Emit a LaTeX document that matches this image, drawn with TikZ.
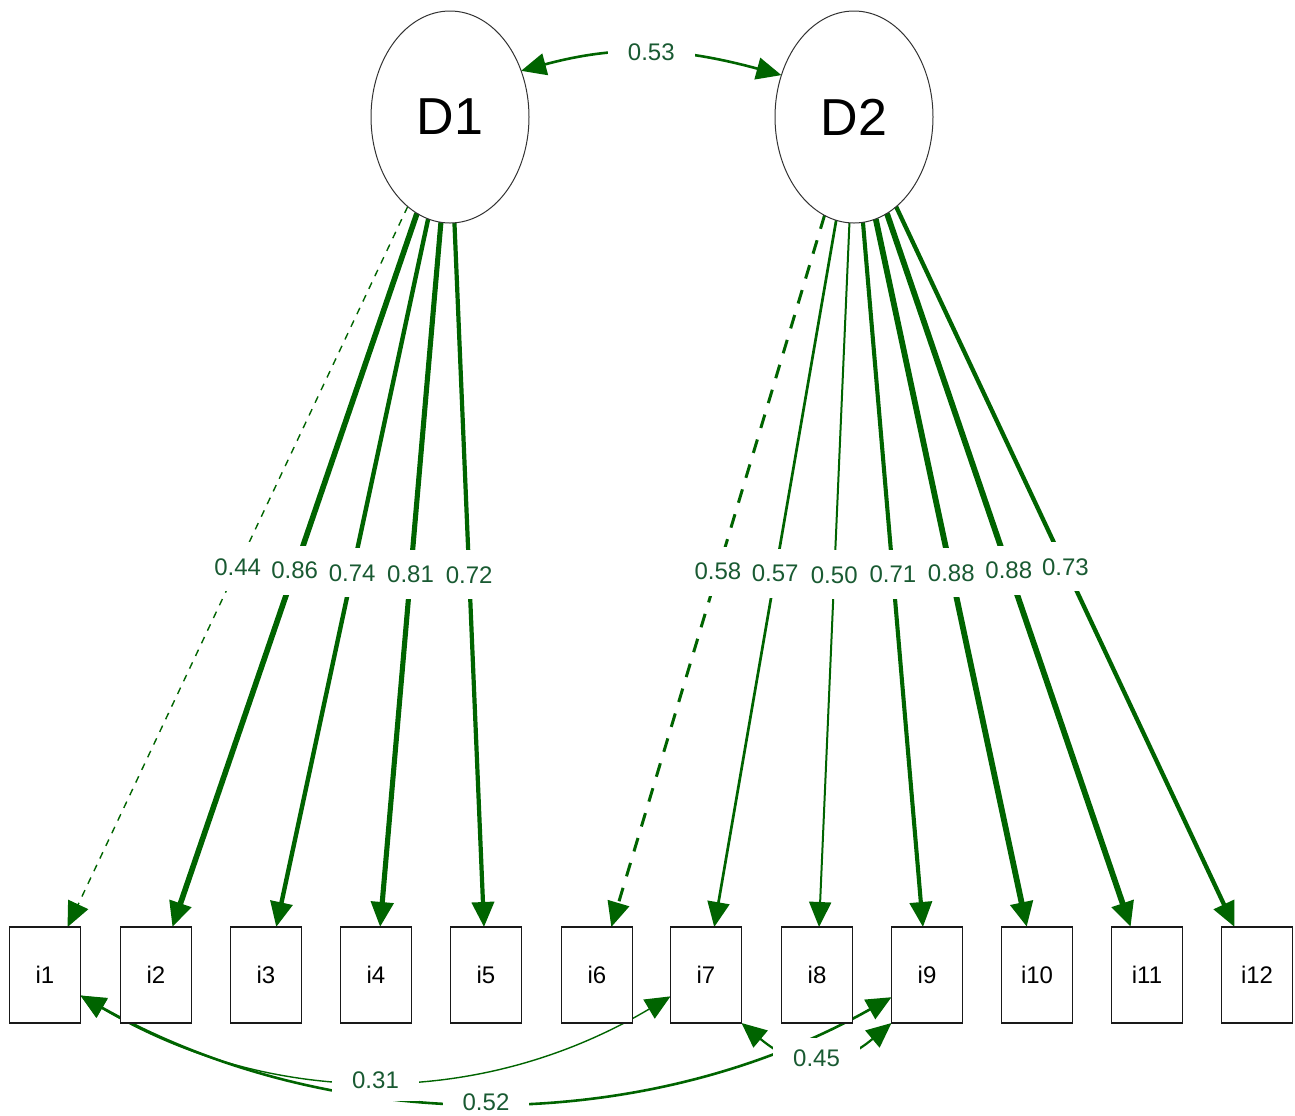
\documentclass[tikz,border=0pt]{standalone}
\usepackage{fontspec}
\setmainfont{Liberation Sans}
\usetikzlibrary{arrows.meta,shapes.geometric}
\definecolor{edgegreen}{RGB}{0,100,0}
\definecolor{lblgreen}{RGB}{25,90,50}
\pgfdeclarelayer{edges}
\pgfsetlayers{edges,main}
\begin{document}
\begin{tikzpicture}[x=0.5pt,y=-0.5pt,
  latent/.style={draw=black!80, line width=0.5pt, ellipse, minimum width=79pt, minimum height=106pt, inner sep=0pt, outer sep=0pt, font=\fontsize{26}{30}\selectfont},
  manifest/.style={draw=black!90, line width=0.9pt, fill=white, rectangle, minimum width=35.5pt, minimum height=48pt, inner sep=0pt, outer sep=0pt, font=\fontsize{12}{14}\selectfont},
  tipx/.tip={Triangle[length=12.5pt,width=11pt]},
  load/.style={draw=edgegreen, -tipx},
  cov/.style={draw=edgegreen, tipx-tipx},
  lbl/.style={fill=white, text=lblgreen, font=\fontsize{12}{14}\selectfont, inner xsep=1pt, inner ysep=8pt},
  clbl/.style={fill=white, text=lblgreen, font=\fontsize{12}{14}\selectfont, inner xsep=10pt, inner ysep=6pt},
  fixA/.style={dash pattern=on 3.5pt off 3.5pt},
  fixB/.style={dash pattern=on 7pt off 6pt}
]
\useasboundingbox (0,0) rectangle (1295,1115);

\node[latent] (D1) at (450,117) {D1};
\node[latent] (D2) at (854,117) {D2};

\node[manifest] (i1) at (45,975) {i1};
\node[manifest] (i2) at (156,975) {i2};
\node[manifest] (i3) at (266,975) {i3};
\node[manifest] (i4) at (376,975) {i4};
\node[manifest] (i5) at (486,975) {i5};
\node[manifest] (i6) at (597,975) {i6};
\node[manifest] (i7) at (706,975) {i7};
\node[manifest] (i8) at (817,975) {i8};
\node[manifest] (i9) at (927,975) {i9};
\node[manifest] (i10) at (1037,975) {i10};
\node[manifest] (i11) at (1147,975) {i11};
\node[manifest] (i12) at (1257,975) {i12};

\begin{pgfonlayer}{edges}
% loadings D1
\draw[load, line width=0.7pt, fixA] (D1) -- node[lbl]{0.44} (i1);
\draw[load, line width=2.8pt] (D1) -- node[lbl]{0.86} (i2);
\draw[load, line width=2.2pt] (D1) -- node[lbl]{0.74} (i3);
\draw[load, line width=2.55pt] (D1) -- node[lbl]{0.81} (i4);
\draw[load, line width=2.1pt] (D1) -- node[lbl]{0.72} (i5);
% loadings D2
\draw[load, line width=1.5pt, fixB] (D2) -- node[lbl]{0.58} (i6);
\draw[load, line width=1.35pt] (D2) -- node[lbl]{0.57} (i7);
\draw[load, line width=1.0pt] (D2) -- node[lbl]{0.50} (i8);
\draw[load, line width=2.05pt] (D2) -- node[lbl]{0.71} (i9);
\draw[load, line width=2.9pt] (D2) -- node[lbl]{0.88} (i10);
\draw[load, line width=2.9pt] (D2) -- node[lbl]{0.88} (i11);
\draw[load, line width=2.15pt] (D2) -- node[lbl]{0.73} (i12);
% covariances
\draw[cov, line width=1.3pt] (D1.33) .. controls +(100,-27) and +(-100,-27) .. node[clbl]{0.53} (D2.150);
\draw[cov, line width=1.3pt] (i1.-30) .. controls +(250,141) and +(-250,141) .. node[clbl]{0.52} (i9.212);
\draw[cov, line width=0.7pt] (i1.-30) .. controls +(190,113) and +(-190,113) .. node[clbl]{0.31} (i7.211);
\draw[cov, line width=1.1pt] (i7.south east) .. controls +(56,47) and +(-56,47) .. node[clbl]{0.45} (i9.south west);
\end{pgfonlayer}
\end{tikzpicture}
\end{document}
